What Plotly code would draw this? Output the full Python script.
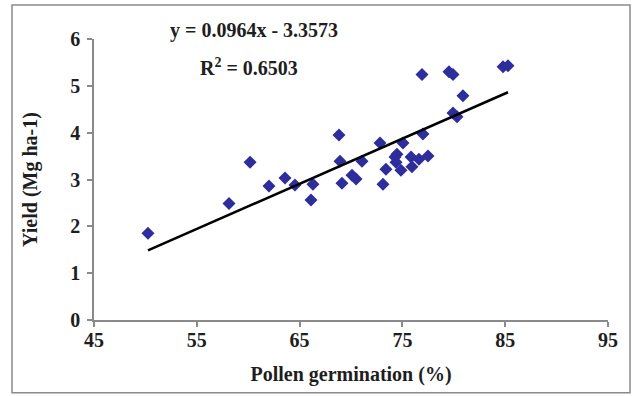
import plotly.graph_objects as go

# Data
germination = [50.25, 58.13, 60.18, 62.02, 63.58, 64.55, 66.11, 66.30, 68.83, 68.93,
               69.12, 70.10, 70.49, 71.07, 72.82, 73.11, 73.40, 74.28, 74.47, 74.38,
               74.86, 75.06, 75.84, 75.93, 76.61, 77.00, 77.49, 76.91, 79.53, 79.92,
               80.89, 79.92, 80.31, 84.79, 85.27]
yield_mg = [1.85, 2.49, 3.37, 2.86, 3.03, 2.88, 2.56, 2.90, 3.95, 3.39,
            2.92, 3.09, 3.01, 3.39, 3.78, 2.90, 3.22, 3.48, 3.54, 3.37,
            3.20, 3.78, 3.48, 3.27, 3.43, 3.97, 3.50, 5.24, 5.30, 5.24,
            4.79, 4.42, 4.34, 5.41, 5.43]

slope = 0.0964
intercept = -3.3573
x_ticks = [45, 55, 65, 75, 85, 95]
y_ticks = [0, 1, 2, 3, 4, 5, 6]

x_min, x_max = min(germination), max(germination)
trend_x = [x_min, x_max]
trend_y = [slope * v + intercept for v in trend_x]

font_family = "Liberation Serif"
axis_color = "#8a8a8a"
text_color = "#1e1e1e"

fig = go.Figure()
fig.add_trace(go.Scatter(
    x=germination, y=yield_mg, mode="markers",
    marker=dict(symbol="diamond", size=10, color="#2d2d9b"),
    showlegend=False, hoverinfo="x+y"))
fig.add_trace(go.Scatter(
    x=trend_x, y=trend_y, mode="lines",
    line=dict(color="black", width=2.5),
    showlegend=False))

fig.update_layout(
    width=634, height=396,
    margin=dict(l=94, r=26, t=39, b=76),
    paper_bgcolor="white", plot_bgcolor="white",
    font=dict(family=font_family, size=17, color=text_color),
    xaxis=dict(
        range=[45, 95], tickmode="array", tickvals=x_ticks,
        ticktext=["<b>%d</b>" % t for t in x_ticks],
        showgrid=False, zeroline=False, showline=True, linecolor=axis_color, linewidth=1.5,
        ticks="outside", ticklen=5, tickcolor=axis_color, tickwidth=1.5,
        tickfont=dict(family=font_family, size=20, color=text_color),
        ticklabelstandoff=-4,
        title=dict(text="<b>Pollen germination (%)</b>", standoff=17,
                   font=dict(family=font_family, size=20, color=text_color)),
    ),
    yaxis=dict(
        range=[0, 6], tickmode="array", tickvals=y_ticks,
        ticktext=["<b>%d</b>" % t for t in y_ticks],
        showgrid=False, zeroline=False, showline=True, linecolor=axis_color, linewidth=1.5,
        ticks="outside", ticklen=5, tickcolor=axis_color, tickwidth=1.5,
        tickfont=dict(family=font_family, size=20, color=text_color),
        ticklabelstandoff=3,
        title=dict(text="<b>Yield (Mg ha-1)</b>", standoff=27,
                   font=dict(family=font_family, size=20, color=text_color)),
    ),
    annotations=[
        dict(text="<b>y = 0.0964x - 3.3573</b>", xref="paper", yref="paper",
             x=(254 - 94) / 514, y=(319.5 - 31) / 280.5, xanchor="center", yanchor="middle",
             showarrow=False, font=dict(family=font_family, size=20, color=text_color)),
        dict(text="<b>R<sup>2</sup> = 0.6503</b>", xref="paper", yref="paper",
             x=(249 - 94) / 514, y=(319.5 - 67) / 280.5, xanchor="center", yanchor="middle",
             showarrow=False, font=dict(family=font_family, size=20, color=text_color)),
    ],
    shapes=[
        dict(type="rect", xref="paper", yref="paper",
             x0=(12 - 94) / 514, x1=(630 - 94) / 514,
             y0=(319.5 - 392) / 280.5, y1=(319.5 - 5) / 280.5,
             line=dict(color="#8a8a8a", width=1.5), fillcolor="rgba(0,0,0,0)", layer="below"),
    ],
)

fig.write_html("out.html")
